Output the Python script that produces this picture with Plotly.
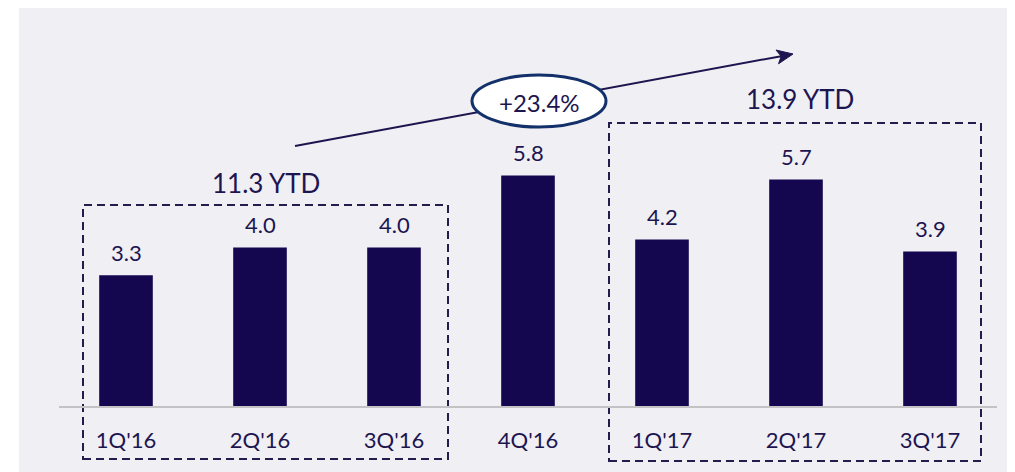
import plotly.graph_objects as go

categories = ["1Q'16", "2Q'16", "3Q'16", "4Q'16", "1Q'17", "2Q'17", "3Q'17"]
values = [3.3, 4.0, 4.0, 5.8, 4.2, 5.7, 3.9]
value_labels = ["3.3", "4.0", "4.0", "5.8", "4.2", "5.7", "3.9"]
group_labels = ["11.3 YTD", "13.9 YTD"]
growth_label = "+23.4%"

# page body has an 8px margin, so the figure is drawn 8px smaller and offset
OFF = 8
W, H = 1015 - OFF, 472 - OFF
ML, MR, MT, MB = 59 - OFF, 18, 0, 65
PW, PH = W - ML - MR, H - MT - MB

BAR = "#14064f"
TXT = "#1d1550"
FONT = "Lato"


def px(x):
    """reference-window pixel x -> paper coordinate"""
    return (x - OFF - ML) / PW


def py(y):
    """reference-window pixel y -> paper coordinate"""
    return (H - MB - (y - OFF)) / PH


fig = go.Figure()
fig.add_trace(go.Bar(
    x=list(range(len(categories))), y=values,
    marker=dict(color=BAR, line=dict(width=0)),
    width=0.4, hoverinfo="skip",
))

for i, (v, t) in enumerate(zip(values, value_labels)):
    fig.add_annotation(x=i, y=v, xref="x", yref="y", text=t, showarrow=False,
                       xanchor="center", yanchor="middle", yshift=23,
                       font=dict(family=FONT, size=22, color=TXT))

shapes = [
    dict(type="rect", xref="paper", yref="paper", x0=px(19), x1=px(1011), y0=py(472), y1=py(8),
         fillcolor="#f0eff3", line=dict(width=0), layer="below"),
    dict(type="rect", xref="paper", yref="paper", x0=px(83), x1=px(448), y0=py(459), y1=py(205),
         line=dict(color="#221d4d", width=2, dash="8px,5px"), fillcolor="rgba(0,0,0,0)"),
    dict(type="rect", xref="paper", yref="paper", x0=px(609), x1=px(981), y0=py(461), y1=py(123),
         line=dict(color="#221d4d", width=2, dash="8px,5px"), fillcolor="rgba(0,0,0,0)"),
    dict(type="line", xref="paper", yref="paper", x0=px(59), x1=px(997), y0=py(407), y1=py(407),
         line=dict(color="#c3c3c5", width=2)),
]

# growth arrow: line + arrowhead
tail = (295, 146)
tip = (793, 54)
dx, dy = tip[0] - tail[0], tip[1] - tail[1]
L = (dx * dx + dy * dy) ** 0.5
ux, uy = dx / L, dy / L
nx, ny = -uy, ux
hl, hw, notch = 16, 7, 12
bx, by = tip[0] - hl * ux, tip[1] - hl * uy
c1 = (bx + hw * nx, by + hw * ny)
c2 = (bx - hw * nx, by - hw * ny)
nt = (tip[0] - notch * ux, tip[1] - notch * uy)
shapes.append(dict(type="line", xref="paper", yref="paper",
                   x0=px(tail[0]), y0=py(tail[1]), x1=px(nt[0]), y1=py(nt[1]),
                   line=dict(color=TXT, width=2)))
path = "M {} {} L {} {} L {} {} L {} {} Z".format(
    px(tip[0]), py(tip[1]), px(c1[0]), py(c1[1]), px(nt[0]), py(nt[1]), px(c2[0]), py(c2[1]))
shapes.append(dict(type="path", xref="paper", yref="paper", path=path,
                   fillcolor=TXT, line=dict(color=TXT, width=1)))

# ellipse over the arrow
shapes.append(dict(type="circle", xref="paper", yref="paper", x0=px(472), x1=px(606),
                   y0=py(127), y1=py(75), fillcolor="white",
                   line=dict(color="#14306b", width=3)))
fig.add_annotation(xref="paper", yref="paper", x=px(539), y=py(102), text=growth_label,
                   showarrow=False, xanchor="center", yanchor="middle",
                   font=dict(family=FONT, size=24, color=TXT))

fig.add_annotation(xref="paper", yref="paper", x=px(266), y=py(183), text=group_labels[0],
                   showarrow=False, xanchor="center", yanchor="middle",
                   font=dict(family=FONT, size=26, color=TXT))
fig.add_annotation(xref="paper", yref="paper", x=px(800), y=py(99), text=group_labels[1],
                   showarrow=False, xanchor="center", yanchor="middle",
                   font=dict(family=FONT, size=26, color=TXT))

fig.update_layout(
    width=W, height=H,
    margin=dict(l=ML, r=MR, t=MT, b=MB),
    paper_bgcolor="white", plot_bgcolor="rgba(0,0,0,0)",
    showlegend=False, shapes=shapes,
    xaxis=dict(tickmode="array", tickvals=list(range(len(categories))), ticktext=categories,
               range=[-0.5, len(categories) - 0.5], showgrid=False, zeroline=False, showline=False,
               ticks="outside", ticklen=14, tickcolor="rgba(0,0,0,0)",
               tickfont=dict(family=FONT, size=22, color=TXT), fixedrange=True),
    yaxis=dict(range=[0, 10], visible=False, fixedrange=True),
)

fig.write_html("out.html")
